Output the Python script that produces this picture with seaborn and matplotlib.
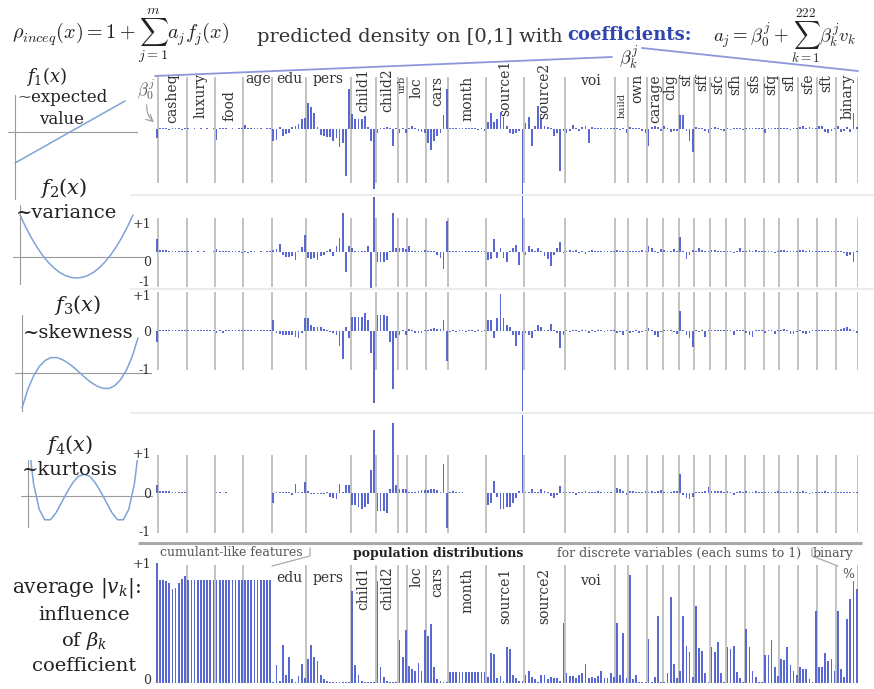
import numpy as np
import pandas as pd
import matplotlib
matplotlib.use('Agg')
import matplotlib.pyplot as plt
import seaborn as sns

sns.set_theme(style='white')
plt.rcParams['font.family'] = ['DejaVu Serif']
plt.rcParams['mathtext.fontset'] = 'dejavuserif'

# ---- data -------------------------------------------------------------
groups = ['casheq', 'luxury', 'food', 'age', 'edu', 'pers', 'child1', 'child2', 'urb', 'loc',
          'cars', 'month', 'source1', 'source2', 'voi', 'build', 'own', 'carage', 'chg', 'sf',
          'sff', 'sfc', 'sfh', 'sfs', 'sfq', 'sfl', 'sfe', 'sft', 'binary']
group_sizes = [9, 9, 9, 9, 11, 14, 8, 7, 3, 6, 7, 12, 12, 13, 16, 4, 6, 5, 5, 5, 5, 5, 6, 6, 5, 6, 6, 6, 7]

# beta^1_k (expected value)
coef_f1 = [
    -0.26,
    0.04, 0.02, 0.03, -0.02, 0.03, 0.02, 0.02, -0.02, 0.02,
    0.02, 0.01, 0.02, 0.01, 0.02, 0.01, 0.02, 0.01, 0.02,
    -0.3, 0.03, 0.02, 0.02, 0.01, 0.02, 0.01, 0.02, 0.02,
    0.12, 0.03, 0.02, 0.03, 0.02, 0.02, 0.01, 0.02, 0.02,
    -0.35, -0.3, 0.05, -0.2, -0.15, -0.1, 0.05, 0.08, 0.15, 0.3, 0.32,
    0.74, 0.62, 0.46, 0.05, -0.16, -0.2, -0.22, -0.23, -0.35, -0.25, -0.51, -0.4, -1.33, 1.14,
    0.43, 0.3, 0.3, 0.28, 0.36, 0.05, -0.33, -1.7,
    -0.1, 0.03, 0.03, 0.05, 0.02, -0.48, 0.02,
    -0.1, 0.02, -0.1,
    0.04, 0.08, 0.03, -0.05, -0.08, -0.12,
    -0.4, -0.6, -0.35, -0.2, -0.1, 0.4, 1.14,
    0.04, 0.03, 0.03, 0.02, 0.03, 0.04, 0.02, 0.03, 0.04, -0.02, 0.03, -0.05,
    0.2, 0.45, 0.2, 0.3, 0.5, 0.35, 0.1, -0.1, -0.15, -0.12, -0.05, -1.9,
    0.17, 0.34, -0.48, 0.08, 0.67, 0.31, 0.08, 0.05, 0.03, -0.2, -0.1, -1.21, -0.05,
    -0.12, -0.05, 0.12, 0.04, -0.05, 0.05, 0.08, -0.4, 0.05, 0.03, 0.04, 0.03, 0.04, 0.03, 0.04, 0.02,
    0.03, -0.02, 0.03, -0.1,
    0.05, 0.03, 0.02, 0.03, -0.05, -0.1,
    -0.48, 0.05, 0.1, 0.05, -0.05,
    0.08, 0.03, -0.08, -0.05, -0.07,
    0.41, 0.4, -0.05, -0.35, -0.65,
    0.06, 0.04, 0.03, -0.06, -0.1,
    0.03, 0.06, 0.04, -0.04, -0.06,
    0.03, -0.02, 0.02, 0.03, 0.02, -0.03,
    0.02, 0.03, 0.02, 0.03, 0.02, 0.03,
    -0.12, 0.03, 0.02, 0.03, 0.02,
    0.03, 0.02, 0.04, -0.03, 0.02, 0.03,
    0.05, 0.08, 0.04, 0.06, 0.02, 0.03,
    0.1, 0.08, -0.08, -0.1, -0.05, 0.03,
    0.08, -0.08, -0.05, 0.06, -0.08, 0.45, 0.05,
]

# beta^2_k (variance)
coef_f2 = [
    0.48,
    0.08, 0.07, 0.06, 0.05, 0.05, 0.04, 0.03, 0.03, 0.02,
    0.02, 0.02, 0.01, 0.02, 0.01, 0.02, 0.01, 0.01, 0.02,
    0.12, 0.04, 0.03, 0.03, 0.02, 0.03, 0.02, 0.02, -0.02,
    0.03, -0.03, 0.02, 0.02, 0.01, 0.02, 0.01, 0.02, 0.02,
    0.08, 0.1, 0.3, -0.1, -0.18, -0.18, -0.15, -0.3, 0.04, 0.18, 0.6,
    -0.2, -0.25, -0.2, -0.3, -0.15, -0.1, 0.05, 0.1, -0.15, 0.2, 0.5, 1.4, -0.7, 0.2,
    0.15, 0.05, 0.03, 0.03, 0.05, 0.2, -1.35, 1.95,
    -0.35, -0.35, -0.35, -0.3, 0.03, 1.4, 0.15,
    0.15, 0.15, 0.12,
    0.2, 0.02, 0.02, 0.02, 0.03, 0.06,
    0.04, 0.03, 0.02, -0.1, -0.2, -0.6, 1.1,
    0.04, 0.03, 0.03, 0.03, 0.02, 0.02, 0.02, 0.02, 0.02, 0.02, 0.02, 0.02,
    -0.3, -0.25, 0.45, -0.2, 0.15, -0.2, -0.35, 0.05, 0.15, 0.25, -0.45, 2.2,
    -0.1, 0.2, 0.1, 0.05, 0.15, 0.05, -0.15, -0.25, -0.5, -0.1, 0.15, 0.35, -0.05,
    0.05, 0.08, 0.03, 0.06, -0.03, 0.03, -0.06, 0.05, 0.06, 0.02, 0.03, 0.02, 0.03, 0.02, 0.02, 0.04,
    0.06, 0.05, 0.04, 0.03,
    0.03, 0.02, 0.03, 0.05, 0.08, 0.04,
    0.2, 0.15, 0.03, -0.05, 0.1,
    0.06, 0.05, 0.04, 0.1, 0.02,
    0.55, 0.03, -0.25, -0.12, 0.08,
    0.04, 0.15, 0.08, 0.04, 0.02,
    0.06, 0.06, 0.05, 0.04, 0.02,
    0.02, 0.03, -0.03, 0.05, 0.15, 0.03,
    0.03, 0.06, 0.05, 0.08, 0.04, 0.02,
    0.05, 0.03, 0.02, -0.03, 0.05,
    0.08, 0.06, 0.05, 0.03, 0.05, 0.02,
    0.08, 0.06, 0.03, 0.08, 0.04, 0.02,
    0.02, 0.03, 0.02, 0.03, 0.02, 0.02,
    0.03, 0.02, -0.03, -0.15, -0.1, -0.35, 0.02,
]

# beta^3_k (skewness)
coef_f3 = [
    -0.3,
    0.02, 0.02, 0.03, 0.02, 0.02, 0.02, 0.02, 0.02, 0.02,
    0.02, 0.02, 0.02, 0.02, 0.02, 0.02, 0.02, 0.02, 0.02,
    -0.05, 0.02, -0.05, 0.02, 0.02, 0.02, 0.02, 0.02, 0.02,
    0.02, 0.02, 0.02, 0.02, 0.02, 0.02, 0.02, 0.02, 0.02,
    0.3, -0.05, -0.08, -0.1, -0.1, -0.12, -0.12, -0.15, -0.2, -0.05, 0.36,
    0.36, 0.15, 0.1, 0.12, 0.12, 0.05, 0.02, -0.03, -0.05, -0.1, -0.4, -0.75, 0.1, -0.18,
    0.38, 0.38, 0.38, 0.38, 0.48, 0.3, -0.6, -1.95,
    0.42, 0.42, 0.42, 0.4, -0.3, -1.57, -0.2,
    -0.1, 0.02, -0.1,
    0.05, 0.02, -0.05, -0.05, -0.05, 0.03,
    0.03, 0.05, 0.08, 0.05, 0.05, 0.3, -0.8,
    -0.02, 0.02, -0.02, 0.02, 0.02, -0.02, 0.02, 0.02, -0.02, 0.02, -0.02, 0.02,
    0.3, 0.3, -0.2, 0.36, 1.0, 0.36, 0.15, 0.12, -0.1, -0.4, -0.1, -2.15,
    -0.05, -0.1, -0.2, 0.02, 0.15, 0.1, 0.02, 0.02, 0.2, 0.02, -0.05, -0.45, -0.1,
    0.02, -0.02, 0.03, 0.02, -0.03, 0.02, 0.04, -0.06, 0.03, -0.02, 0.03, 0.02, -0.02, 0.02, 0.02, 0.02,
    -0.05, -0.02, -0.1, 0.03,
    -0.05, -0.03, 0.03, -0.06, -0.03, 0.02,
    0.08, 0.02, -0.1, -0.15, -0.03,
    0.03, 0.02, 0.02, -0.03, -0.08,
    0.55, 0.03, -0.12, -0.2, -0.42,
    0.02, -0.02, 0.02, -0.15, 0.02,
    0.02, 0.03, 0.02, 0.02, 0.02,
    0.02, 0.02, -0.1, 0.02, 0.03, 0.02,
    -0.05, -0.1, -0.15, 0.02, 0.02, 0.02,
    -0.05, 0.02, 0.02, -0.08, 0.02,
    0.02, 0.06, 0.02, -0.08, -0.08, -0.02,
    0.02, -0.05, -0.08, -0.05, 0.02, 0.02,
    0.03, 0.02, 0.02, 0.03, 0.02, 0.02,
    0.02, 0.05, 0.08, 0.12, 0.05, 0.03, -0.05,
]

# beta^4_k (kurtosis)
coef_f4 = [
    0.21,
    0.05, 0.04, 0.04, 0.04, 0.03, 0.03, 0.03, 0.03, 0.02,
    0.01, 0.01, 0.01, 0.01, 0.01, 0.01, 0.01, 0.01, 0.01,
    0.02, 0.02, 0.01, 0.03, 0.01, 0.01, 0.01, 0.01, 0.01,
    0.01, 0.01, 0.01, 0.01, 0.01, 0.01, 0.01, 0.01, 0.01,
    -0.25, 0.02, 0.02, 0.02, 0.02, 0.02, -0.05, 0.22, 0.02, 0.03, 0.28,
    0.04, -0.03, -0.03, -0.03, -0.02, -0.02, 0.02, -0.1, -0.12, -0.15, 0.22, 0.02, 0.2, 0.2,
    -0.32, -0.32, -0.35, -0.42, -0.35, -0.28, 0.6, 1.62,
    -0.45, -0.45, -0.45, -0.5, 0.1, 1.8, 0.2,
    0.1, 0.1, 0.1,
    0.02, 0.02, 0.03, 0.05, 0.08, 0.08,
    0.08, 0.1, 0.1, 0.08, 0.02, 0.75, -0.9,
    0.02, 0.04, 0.03, 0.02, 0.02, 0.01, 0.01, 0.01, 0.01, 0.01, 0.01, 0.01,
    -0.3, -0.25, 0.3, -0.1, -0.4, -0.4, -0.35, -0.35, -0.25, -0.12, 0.05, 2.0,
    0.03, 0.03, 0.1, 0.02, 0.03, 0.1, 0.04, 0.02, -0.08, -0.12, -0.05, 0.18, 0.02,
    0.02, 0.03, 0.02, -0.04, 0.02, 0.03, 0.05, 0.02, 0.03, 0.02, 0.04, 0.02, 0.02, 0.02, 0.03, 0.01,
    0.12, 0.1, 0.05, -0.05,
    0.05, 0.04, 0.03, 0.02, 0.03, 0.04,
    0.03, 0.05, 0.02, 0.05, 0.08,
    0.03, 0.02, 0.03, 0.04, 0.05,
    0.5, -0.06, -0.12, -0.15, -0.1,
    0.02, 0.02, 0.03, 0.04, 0.15,
    0.05, 0.05, 0.04, 0.06, 0.02,
    0.04, 0.02, -0.04, 0.03, 0.04, 0.03,
    0.04, 0.03, 0.02, 0.05, 0.02, 0.03,
    0.03, 0.02, 0.03, 0.02, 0.05,
    0.03, 0.02, 0.02, 0.04, 0.02, 0.03,
    0.02, 0.04, 0.03, -0.03, 0.03, 0.02,
    0.03, 0.02, 0.04, 0.03, 0.02, 0.02,
    0.03, 0.02, 0.02, 0.02, 0.03, 0.02, 0.03,
]

# average |v_k|
avg_abs_v = [
    1.0,
    0.86, 0.86, 0.85, 0.83, 0.78, 0.79, 0.83, 0.87, 0.89,
    0.86, 0.86, 0.86, 0.86, 0.86, 0.86, 0.86, 0.86, 0.86,
    0.86, 0.86, 0.86, 0.86, 0.86, 0.86, 0.86, 0.86, 0.86,
    0.86, 0.86, 0.86, 0.86, 0.86, 0.86, 0.86, 0.86, 0.86,
    0.01, 0.15, 0.02, 0.32, 0.07, 0.22, 0.03, 0.01, 0.06, 0.16, 0.04,
    0.2, 0.32, 0.22, 0.18, 0.07, 0.03, 0.02, 0.01, 0.01, 0.01, 0.01, 0.01, 0.01, 0.005,
    0.77, 0.15, 0.07, 0.02, 0.01, 0.01, 0.01, 0.01,
    0.85, 0.13, 0.05, 0.02, 0.01, 0.01, 0.01,
    0.36, 0.22, 0.44,
    0.14, 0.12, 0.1, 0.17, 0.1, 0.44,
    0.39, 0.49, 0.13, 0.03, 0.02, 0.01, 0.01,
    0.09, 0.09, 0.09, 0.09, 0.09, 0.09, 0.09, 0.09, 0.09, 0.09, 0.09, 0.09,
    0.05, 0.25, 0.24, 0.04, 0.06, 0.02, 0.3, 0.28, 0.07, 0.04, 0.02, 0.02,
    0.07, 0.1, 0.05, 0.03, 0.01, 0.07, 0.07, 0.03, 0.05, 0.04, 0.04, 0.02, 0.5,
    0.08, 0.06, 0.06, 0.04, 0.07, 0.08, 0.16, 0.04, 0.05, 0.04, 0.06, 0.1, 0.04, 0.04, 0.08, 0.05,
    0.5, 0.07, 0.42, 0.04,
    0.9, 0.03, 0.07, 0.01, 0.01, 0.01,
    0.37, 0.01, 0.05, 0.56, 0.01,
    0.01, 0.08, 0.72, 0.16, 0.04,
    0.1, 0.56, 0.31, 0.26, 0.05,
    0.64, 0.29, 0.27, 0.08, 0.01,
    0.3, 0.26, 0.34, 0.08, 0.01,
    0.3, 0.28, 0.31, 0.09, 0.04, 0.01,
    0.45, 0.3, 0.1, 0.05, 0.01, 0.01,
    0.23, 0.23, 0.36, 0.13, 0.06,
    0.2, 0.19, 0.3, 0.15, 0.1, 0.07,
    0.13, 0.12, 0.12, 0.03, 0.01, 0.6,
    0.13, 0.13, 0.25, 0.18, 0.2, 0.1,
    0.6, 0.12, 0.05, 0.53, 0.7, 0.85, 0.78,
]

# shapes of the basis functions f_1..f_4 on [0,1]
basis_x = [0, .05, .1, .15, .2, .25, .3, .35, .4, .45, .5, .55, .6, .65, .7, .75, .8, .85, .9, .95, 1]
f1_y = [-1, -0.9, -0.8, -0.7, -0.6, -0.5, -0.4, -0.3, -0.2, -0.1, 0, 0.1, 0.2, 0.3, 0.4, 0.5, 0.6, 0.7, 0.8, 0.9, 1]
f2_y = [1, 0.715, 0.46, 0.235, 0.04, -0.125, -0.26, -0.365, -0.44, -0.485, -0.5,
        -0.485, -0.44, -0.365, -0.26, -0.125, 0.04, 0.235, 0.46, 0.715, 1]
f3_y = [-1, -0.47, -0.08, 0.19, 0.36, 0.44, 0.44, 0.38, 0.28, 0.15, 0,
        -0.15, -0.28, -0.38, -0.44, -0.44, -0.36, -0.19, 0.08, 0.47, 1]
f4_y = [1, 0.21, -0.23, -0.41, -0.41, -0.29, -0.11, 0.07, 0.23, 0.34, 0.375,
        0.34, 0.23, 0.07, -0.11, -0.29, -0.41, -0.41, -0.23, 0.21, 1]

# ---- style -------------------------------------------------------------
BAR = '#5a68d2'
SEP = '#bdbdbd'
TXT = '#333333'
CURVE = '#7ea3d6'
W, H = 874, 689
X0, DX = 156.7, 3.153

fig = plt.figure(figsize=(W / 100, H / 100), dpi=100)


def box(x0, y0, x1, y1):
    return fig.add_axes([x0 / W, 1 - y1 / H, (x1 - x0) / W, (y1 - y0) / H])


starts = np.cumsum([1] + group_sizes[:-1])
seps = list(starts - 0.5) + [starts[-1] + group_sizes[-1] - 0.5]
centers = starts + (np.array(group_sizes) - 1) / 2


def bar_row(vals, top, bottom, zero, ppu, sep_list):
    ax = box(X0 - 0.5 * DX, top, X0 + 222.5 * DX, bottom)
    df = pd.DataFrame({'k': np.arange(len(vals)), 'v': vals})
    ax.vlines(sep_list, -10, 10, color=SEP, lw=1.3, zorder=0)
    sns.barplot(data=df, x='k', y='v', native_scale=True, color=BAR, width=0.55,
                saturation=1, errorbar=None, linewidth=0, ax=ax, zorder=2)
    for p in ax.patches:
        p.set_clip_on(False)
    ax.set_xlim(-0.5, 222.5)
    ax.set_ylim((zero - bottom) / ppu, (zero - top) / ppu)
    ax.axis('off')
    return ax


bar_row(coef_f1, 77, 183, 129, 35, seps)
bar_row(coef_f2, 218, 287, 252, 28, seps)
bar_row(coef_f3, 292, 370, 331, 37, seps)
bar_row(coef_f4, 455, 533, 493, 39, seps)
bar_row(avg_abs_v, 565, 683, 683, 120, seps[1:4] + seps[5:])


def mini(xs, ys, x0, x1, zero, unit, top, bottom):
    # x0/x1: pixel of x=0 / x=1 ; unit: pixels per 1.0
    ax = box(x0 - 0.06 * (x1 - x0), top, x1 + 0.12 * (x1 - x0), bottom)
    ax.set_xlim(-0.06, 1.12)
    ax.set_ylim((zero - bottom) / unit, (zero - top) / unit)
    ax.axhline(0, color='#9a9a9a', lw=0.8)
    ax.axvline(0, color='#9a9a9a', lw=0.8)
    sns.lineplot(x=xs, y=ys, color=CURVE, lw=1.1, ax=ax)
    ax.axis('off')


mini(basis_x, f1_y, 15, 125, 132, 31, 95, 200)
mini(basis_x, f2_y, 20, 133, 257, 42, 205, 285)
mini(basis_x, f3_y, 22, 138, 373, 35, 315, 412)
mini(basis_x, f4_y, 28, 140, 496, 58, 460, 528)

# ---- overlay in pixel coordinates -------------------------------------
ov = fig.add_axes([0, 0, 1, 1], zorder=5)
ov.set_xlim(0, W)
ov.set_ylim(H, 0)
ov.axis('off')


def px(i):
    return X0 + DX * i


ov.text(12, 36, r'$\rho_{inceq}(x) = 1 + \sum_{j=1}^{m} a_j f_j(x)$', fontsize=14.5,
        math_fontfamily='cm', va='center', ha='left', color='#222')
ov.text(563, 37, 'predicted density on [0,1] with', fontsize=14, ha='right', va='center', color=TXT)
ov.text(567, 35, 'coefficients:', fontsize=13, ha='left', va='center', color='#2e45b0', fontweight='bold')
ov.text(713, 36, r'$a_j = \beta_0^j + \sum_{k=1}^{222} \beta_k^j v_k$', fontsize=13.5,
        math_fontfamily='cm', va='center', ha='left', color='#222')
ov.text(629, 57, r'$\beta_k^j$', fontsize=13, math_fontfamily='cm', ha='center', va='center', color='#222')
ov.plot([155, 612], [76, 57], color='#8b97da', lw=1.3)
ov.plot([642, 858], [48, 71], color='#8b97da', lw=1.3)
ov.text(146, 90, r'$\beta_0^j$', fontsize=12, math_fontfamily='cm', ha='center', va='center', color='#555')
ov.annotate('', xy=(156, 124), xytext=(147, 102),
            arrowprops=dict(arrowstyle='->', color='#999', lw=0.8, connectionstyle='arc3,rad=0.3'))

# group labels on top
top_style = {'casheq': (90, 10, 73), 'luxury': (90, 10, 73), 'food': (90, 10, 90),
             'age': (0, 10, 72), 'edu': (0, 10, 72), 'pers': (0, 10, 72),
             'child1': (90, 10, 68), 'child2': (90, 10, 68), 'urb': (90, 7, 76),
             'loc': (90, 10, 77), 'cars': (90, 10, 76), 'month': (90, 10, 76),
             'source1': (90, 10, 60), 'source2': (90, 10, 63), 'voi': (0, 10, 74),
             'build': (90, 7, 93)}
for name, c in zip(groups, centers):
    rot, fs, ytop = top_style.get(name, (90, 10, 74))
    ov.text(px(c), ytop, name, rotation=rot, fontsize=fs, ha='center', va='top', color=TXT)

# row tick labels
for lab, y in [('+1', 224), ('0', 262), ('-1', 283), ('+1', 297), ('0', 333), ('-1', 370),
               ('+1', 455), ('0', 495), ('-1', 533), ('+1', 565), ('0', 681)]:
    ov.text(151, y, lab, fontsize=9, ha='right', va='center', color=TXT)

# left titles
ov.text(47, 76, r'$f_1(x)$', fontsize=13, ha='center', va='center', color='#222')
ov.text(62, 98, '~expected', fontsize=12, ha='center', va='center', color='#222')
ov.text(62, 119, 'value', fontsize=12, ha='center', va='center', color='#222')
ov.text(64, 188, r'$f_2(x)$', fontsize=15, ha='center', va='center', color='#222')
ov.text(66, 213, '~variance', fontsize=14, ha='center', va='center', color='#222')
ov.text(78, 305, r'$f_3(x)$', fontsize=15, ha='center', va='center', color='#222')
ov.text(78, 333, '~skewness', fontsize=14, ha='center', va='center', color='#222')
ov.text(70, 445, r'$f_4(x)$', fontsize=15, ha='center', va='center', color='#222')
ov.text(70, 470, '~kurtosis', fontsize=14, ha='center', va='center', color='#222')

# dividers
ov.hlines([195, 289, 413], 130, W, color='#ececec', lw=1.5)
ov.hlines(543, 138, 862, color='#a8a8a8', lw=2.2)

# bottom panel texts
ov.text(160, 553, 'cumulant-like features', fontsize=9, ha='left', va='center', color='#555')
ov.plot([310, 310, 272], [548, 556, 566], color='#aaa', lw=0.9)
ov.text(353, 553, 'population distributions', fontsize=9, ha='left', va='center', color='#222',
        fontweight='bold')
ov.text(557, 553, 'for discrete variables (each sums to 1)', fontsize=9, ha='left', va='center',
        color='#555')
ov.text(813, 553, 'binary', fontsize=9, ha='left', va='center', color='#555')
ov.plot([812, 812, 838], [548, 556, 566], color='#aaa', lw=0.9)
ov.text(848, 574, '%', fontsize=9, ha='center', va='center', color='#555')
bottom_style = {'edu': (0, 571), 'pers': (0, 571), 'child1': (90, 566), 'child2': (90, 566),
                'loc': (90, 566), 'cars': (90, 567), 'month': (90, 568), 'source1': (90, 568),
                'source2': (90, 568), 'voi': (0, 574)}
for name, c in zip(groups, centers):
    if name in bottom_style:
        rot, ytop = bottom_style[name]
        ov.text(px(c), ytop, name, rotation=rot, fontsize=10, ha='center', va='top', color=TXT)

ov.text(76, 588, r'average $|v_k|$:', fontsize=14.5, ha='center', va='center', color='#222')
ov.text(84, 615, 'influence', fontsize=14, ha='center', va='center', color='#222')
ov.text(84, 641, r'of $\beta_k$', fontsize=14, ha='center', va='center', color='#222')
ov.text(84, 666, 'coefficient', fontsize=14, ha='center', va='center', color='#222')

fig.savefig('out.png', dpi=100, facecolor='white')
